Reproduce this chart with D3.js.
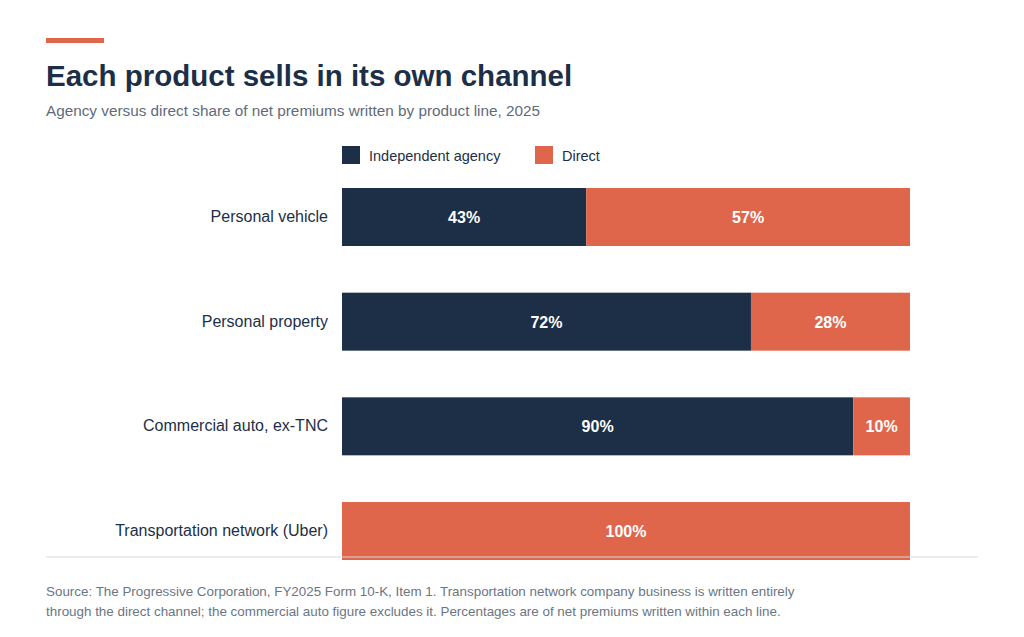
<!DOCTYPE html>
<html><head><meta charset="utf-8">
<script src="https://cdn.jsdelivr.net/npm/d3@7"></script>
<style>body{margin:0;background:#fff;font-family:"Liberation Sans",Arial,sans-serif}</style>
</head><body><svg id="c" width="1024" height="637"></svg>
<script>
var categories = ["Personal vehicle","Personal property","Commercial auto, ex-TNC","Transportation network (Uber)"];
var agency = [43,72,90,0];
var direct = [57,28,10,100];
var seriesNames = ["Independent agency","Direct"];
var colors = ["#1c2f47","#e0664b"];

var svg = d3.select("#c");
svg.append("rect").attr("x",46).attr("y",38).attr("width",58).attr("height",5).attr("fill",colors[1]);
svg.append("text").attr("x",46).attr("y",86).attr("font-size",29.5).attr("font-weight","bold").attr("fill","#1c2f47").text("Each product sells in its own channel");
svg.append("text").attr("x",46).attr("y",116).attr("font-size",15.3).attr("fill","#5f6b7a").text("Agency versus direct share of net premiums written by product line, 2025");

var leg = [[342,369],[535,562]];
seriesNames.forEach(function(n,i){
  svg.append("rect").attr("x",leg[i][0]).attr("y",146).attr("width",18).attr("height",18).attr("fill",colors[i]);
  svg.append("text").attr("x",leg[i][1]).attr("y",160.5).attr("font-size",14.5).attr("fill","#1c2f47").text(n);
});

var x = d3.scaleLinear().domain([0,100]).range([342,910]);
var y = d3.scaleBand().domain(categories).range([188,560]).paddingInner(0.446).paddingOuter(0);
var rows = categories.map(function(c,i){return {cat:c,a:agency[i],d:direct[i]};});
var g = svg.selectAll(".row").data(rows).enter().append("g");
g.append("text").attr("x",328).attr("y",d=>y(d.cat)+y.bandwidth()/2+5).attr("text-anchor","end").attr("font-size",16).attr("fill","#1c2f47").text(d=>d.cat);
[["a",0,function(d){return 0;}],["d",1,function(d){return d.a;}]].forEach(function(s){
  var k=s[0];
  g.filter(d=>d[k]>0).append("rect").attr("x",d=>x(s[2](d))).attr("y",d=>y(d.cat)).attr("width",d=>x(d[k])-x(0)).attr("height",y.bandwidth()).attr("fill",colors[s[1]]);
  g.filter(d=>d[k]>0).append("text").attr("x",d=>x(s[2](d)+d[k]/2)).attr("y",d=>y(d.cat)+y.bandwidth()/2+6).attr("text-anchor","middle").attr("font-size",16).attr("font-weight","bold").attr("fill","#fff").text(d=>d[k]+"%");
});
svg.append("line").attr("x1",46).attr("x2",978).attr("y1",557).attr("y2",557).attr("stroke","#d5d9de");
var foot = ["Source: The Progressive Corporation, FY2025 Form 10-K, Item 1. Transportation network company business is written entirely","through the direct channel; the commercial auto figure excludes it. Percentages are of net premiums written within each line."];
foot.forEach(function(t,i){svg.append("text").attr("x",46).attr("y",596+i*20).attr("font-size",13.4).attr("fill","#6b7684").text(t);});
</script></body></html>
